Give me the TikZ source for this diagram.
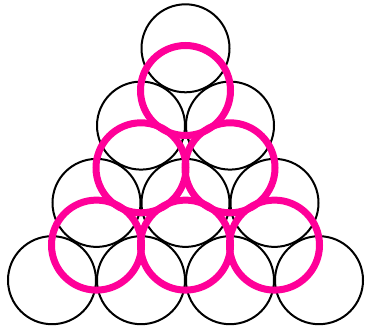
\documentclass[tikz,border=0pt]{standalone}
\definecolor{pinkring}{RGB}{255,0,153}
\begin{document}
\begin{tikzpicture}[x=1pt,y=-1pt,
  blackring/.style={draw=black,line width=2pt},
  magring/.style={draw=pinkring,line width=7pt}]
\useasboundingbox (0,0) rectangle (366,332);
\foreach \row in {0,...,3}{
  \foreach \k in {0,...,\row}{
    \draw[blackring] ({185.5-44.5*\row+89*\k},{48.3+77.3*\row}) circle (44);
  }
}
\foreach \row in {0,...,2}{
  \foreach \k in {0,...,\row}{
    \draw[magring] ({185.5-44.5*\row+89*\k},{90.5+77.3*\row}) circle (45);
  }
}
\end{tikzpicture}
\end{document}
